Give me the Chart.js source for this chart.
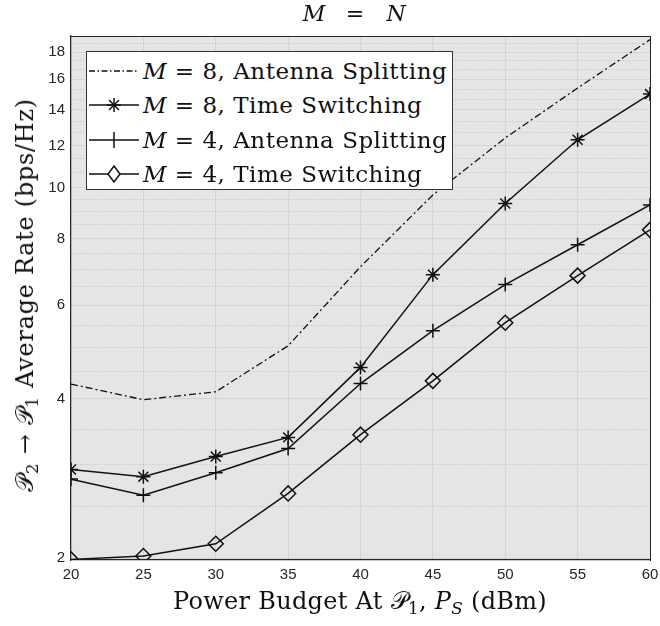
<!DOCTYPE html>
<html>
<head>
<meta charset="utf-8">
<script src="https://cdn.jsdelivr.net/npm/chart.js@4/dist/chart.umd.min.js"></script>
<style>
  html, body { margin: 0; padding: 0; background: #fff; }
  #wrap { position: relative; width: 660px; height: 626px; }
  #chart { position: absolute; left: 0; top: 0; }
  .tex { position: absolute; font-family: 'DejaVu Serif', serif; color: #111; white-space: nowrap; }
  .tex sub { font-size: 0.7em; vertical-align: -0.3em; line-height: 0; }
  #title span { position: absolute; top: 1px; font-size: 22px; transform: translateX(-50%); }
  #xlabel { left: 0; width: 720px; top: 587px; text-align: center; font-size: 24px; letter-spacing: 0.3px; }
  #ylabel { left: 25px; top: 295px; font-size: 24px; letter-spacing: 0.7px;
            transform: translate(-50%, -50%) rotate(-90deg); }
  #legend { position: absolute; left: 86px; top: 51px; width: 367px; height: 139px;
            background: #fff; border: 1px solid #333; box-sizing: border-box; }
  .row { position: absolute; left: 0; height: 34px; display: flex; align-items: center; }
  .row svg { margin-left: 2px; }
  .row span { font-family: 'DejaVu Serif', serif; font-size: 23px; letter-spacing: 0.5px;
              margin-left: 4px; color: #111; }
</style>
</head>
<body>
<div id="wrap">
  <canvas id="chart" width="660" height="626"></canvas>
  <div id="title" class="tex">
    <span style="left:314px"><i>M</i></span>
    <span style="left:355px">=</span>
    <span style="left:396px"><i>N</i></span>
  </div>
  <div id="xlabel" class="tex">Power Budget At 𝒫<sub>1</sub>, <i>P</i><sub><i>S</i></sub> (dBm)</div>
  <div id="ylabel" class="tex">𝒫<sub>2</sub> → 𝒫<sub>1</sub> Average Rate (bps/Hz)</div>
  <div id="legend"></div>
</div>
<script>
// ── Data ──────────────────────────────────────────────────────────────────────

const powerDbm = [20, 25, 30, 35, 40, 45, 50, 55, 60];

const m8Antenna = [4.26, 3.98, 4.12, 5.03, 7.09, 9.68, 12.4, 15.4, 19.0];
const m8Time    = [2.94, 2.85, 3.11, 3.38, 4.58, 6.85, 9.33, 12.3, 15.0];
const m4Antenna = [2.82, 2.63, 2.90, 3.22, 4.27, 5.37, 6.56, 7.80, 9.27];
const m4Time    = [1.99, 2.02, 2.13, 2.65, 3.42, 4.32, 5.56, 6.82, 8.32];

const yMajorTicks = [2, 4, 6, 8, 10, 12, 14, 16, 18];
const yMinorTicks = [2.5, 3, 3.5, 4.5, 5, 5.5, 6.5, 7, 7.5, 8.5, 9, 9.5,
                     10.67, 11.33, 12.67, 13.33, 14.67, 15.33, 16.67, 17.33, 18.67];

const legendLabels = [
  '<i>M</i> = 8, Antenna Splitting',
  '<i>M</i> = 8, Time Switching',
  '<i>M</i> = 4, Antenna Splitting',
  '<i>M</i> = 4, Time Switching',
];

// ── Styles ────────────────────────────────────────────────────────────────────

const INK      = '#111111';
const AXIS     = '#262626';
const PLOT_BG  = '#e5e5e5';
const MARKERS  = [null, 'star', 'cross', 'rectRot'];

const series = [m8Antenna, m8Time, m4Antenna, m4Time];

const datasets = series.map((vals, i) => ({
  label: legendLabels[i].replace(/<[^>]+>/g, ''),
  data: powerDbm.map((x, j) => ({ x, y: vals[j] })),
  borderColor: INK,
  backgroundColor: 'rgba(0,0,0,0)',
  borderWidth: i === 0 ? 1.3 : 1.5,
  borderDash: i === 0 ? [7, 3, 2, 3] : [],
  pointStyle: MARKERS[i] || false,
  pointRadius: i === 0 ? 0 : (i === 3 ? 7.5 : 7),
  pointBorderWidth: 1.5,
  pointBorderColor: INK,
  pointBackgroundColor: 'rgba(0,0,0,0)',
  tension: 0,
}));

const plotBg = {
  id: 'plotBg',
  beforeDraw(chart) {
    const { ctx, chartArea: a } = chart;
    ctx.save();
    ctx.fillStyle = PLOT_BG;
    ctx.fillRect(a.left, a.top, a.right - a.left, a.bottom - a.top);
    ctx.restore();
  },
};

const isMajor = v => yMajorTicks.includes(v);

new Chart(document.getElementById('chart'), {
  type: 'line',
  data: { datasets },
  plugins: [plotBg],
  options: {
    responsive: false,
    animation: false,
    layout: { padding: { top: 36, right: 10, left: 0, bottom: 0 } },
    plugins: { legend: { display: false }, tooltip: { enabled: false } },
    scales: {
      x: {
        type: 'linear', min: 20, max: 60,
        afterFit: s => { s.height = 66; s.paddingLeft = 0; s.paddingRight = 0; },
        ticks: { stepSize: 5, color: AXIS, padding: 6,
                 font: { family: 'Liberation Sans', size: 15 } },
        grid: { color: 'rgba(0,0,0,0.07)', lineWidth: 1, drawTicks: false },
        border: { color: AXIS, width: 1.2 },
      },
      x2: {
        type: 'linear', position: 'top', min: 20, max: 60,
        afterFit: s => { s.height = 0; },
        ticks: { display: false },
        grid: { drawOnChartArea: false, drawTicks: false },
        border: { color: AXIS, width: 1 },
      },
      y: {
        type: 'logarithmic', min: 1.985, max: 19.3,
        afterFit: s => { s.width = 71; },
        afterBuildTicks: s => {
          s.ticks = yMajorTicks.concat(yMinorTicks)
            .sort((a, b) => a - b)
            .map(v => ({ value: v, major: isMajor(v) }));
        },
        ticks: {
          autoSkip: false, color: AXIS, padding: 6,
          font: { family: 'Liberation Sans', size: 15 },
          callback: v => (isMajor(v) ? String(v) : ''),
        },
        grid: {
          drawTicks: false,
          color: c => (c.tick && isMajor(c.tick.value) ? 'rgba(0,0,0,0.07)' : 'rgba(0,0,0,0.16)'),
          lineWidth: 1,
        },
        border: {
          color: AXIS, width: 1.2,
          dash: c => (c.tick && isMajor(c.tick.value) ? [] : [1, 2]),
        },
      },
      y2: {
        type: 'logarithmic', position: 'right', min: 1.985, max: 19.3,
        afterFit: s => { s.width = 0; },
        ticks: { display: false },
        grid: { drawOnChartArea: false, drawTicks: false },
        border: { color: AXIS, width: 1 },
      },
    },
  },
});

// ── Legend (HTML, drawn over the axes box) ───────────────────────────────────

function sampleSvg(i) {
  const w = 50, h = 30, cy = 15, cx = 25;
  const dash = i === 0 ? 'stroke-dasharray="6 2.5 1.5 2.5"' : '';
  let mark = '';
  if (i === 1) {
    mark = `<g stroke="${INK}" stroke-width="1.5">
      <line x1="${cx - 7}" y1="${cy}" x2="${cx + 7}" y2="${cy}"/>
      <line x1="${cx}" y1="${cy - 7}" x2="${cx}" y2="${cy + 7}"/>
      <line x1="${cx - 5}" y1="${cy - 5}" x2="${cx + 5}" y2="${cy + 5}"/>
      <line x1="${cx - 5}" y1="${cy + 5}" x2="${cx + 5}" y2="${cy - 5}"/></g>`;
  } else if (i === 2) {
    mark = `<line x1="${cx}" y1="${cy - 8}" x2="${cx}" y2="${cy + 8}" stroke="${INK}" stroke-width="1.5"/>`;
  } else if (i === 3) {
    mark = `<polygon points="${cx},${cy - 8} ${cx + 6},${cy} ${cx},${cy + 8} ${cx - 6},${cy}"
      fill="#fff" stroke="${INK}" stroke-width="1.5"/>`;
  }
  return `<svg width="${w}" height="${h}">
    <line x1="0" y1="${cy}" x2="${w}" y2="${cy}" stroke="${INK}" stroke-width="1.4" ${dash}/>
    ${mark}</svg>`;
}

const legendEl = document.getElementById('legend');
legendEl.innerHTML = legendLabels.map((lbl, i) =>
  `<div class="row" style="top:${2 + i * 34.3}px">${sampleSvg(i)}<span>${lbl}</span></div>`
).join('');
</script>
</body>
</html>
